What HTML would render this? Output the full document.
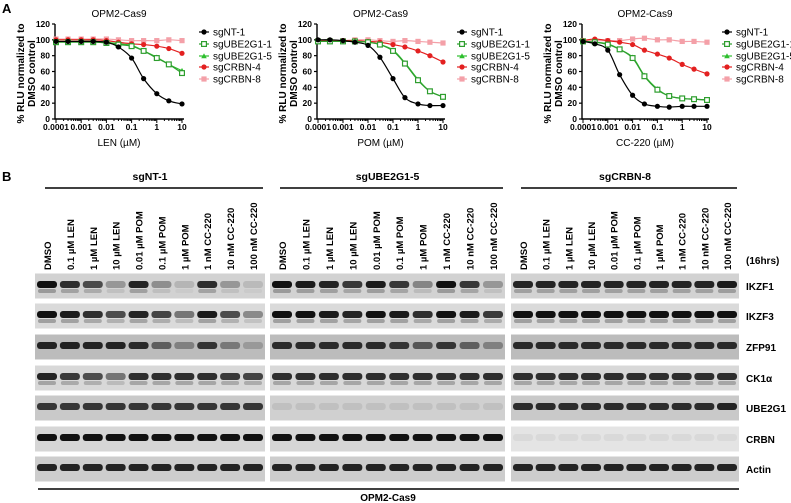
<!DOCTYPE html>
<html><head><meta charset="utf-8"><style>
html,body{margin:0;padding:0;background:#fff;width:791px;height:503px;overflow:hidden}
svg{display:block;font-family:"Liberation Sans",sans-serif}
</style></head><body>
<svg id="fig" width="791" height="503" viewBox="0 0 791 503" xmlns="http://www.w3.org/2000/svg">
<text x="2" y="13" font-size="13" font-weight="bold">A</text>
<text x="2" y="181" font-size="13" font-weight="bold">B</text>
</svg>
<script>
const doses=[0.0001,0.0003,0.001,0.003,0.01,0.03,0.1,0.3,1,3,10];
const seriesNames=["sgNT-1","sgUBE2G1-1","sgUBE2G1-5","sgCRBN-4","sgCRBN-8"];
const yTicks=[0,20,40,60,80,100,120];
const xTicks=[0.0001,0.001,0.01,0.1,1,10];
const xTickLabels=["0.0001","0.001","0.01","0.1","1","10"];
const len_nt=[98,98,98,98,97,91,77,51,32,23,19];
const len_ube1=[97,97,97,97,96,94,92,86,77,69,58];
const len_ube5=[98,98,98,98,97,95,93,86,78,69,61];
const len_crbn4=[100,100,100,100,99,97,95,94,92,89,83];
const len_crbn8=[101,101,101,101,101,100,99,99,99,100,99];
const pom_nt=[100,100,99,97,93,78,51,27,19,17,17];
const pom_ube1=[98,98,98,98,97,94,86,70,49,35,28];
const pom_ube5=[98,98,98,98,97,94,87,71,50,35,28];
const pom_crbn4=[99,99,99,99,98,97,94,91,86,80,72];
const pom_crbn8=[99,99,99,100,100,99,98,99,98,97,96];
const cc_nt=[98,95,87,56,30,19,16,15,16,16,16];
const cc_ube1=[98,97,94,88,77,54,37,29,26,25,24];
const cc_ube5=[98,97,95,88,78,55,38,29,26,25,24];
const cc_crbn4=[99,101,99,97,94,87,82,77,69,63,57];
const cc_crbn8=[99,99,99,99,101,102,100,100,98,98,97];

const NS="http://www.w3.org/2000/svg";
const svg=document.getElementById('fig');
function mk(tag,attrs,parent){const e=document.createElementNS(NS,tag);for(const k in attrs)e.setAttribute(k,attrs[k]);(parent||svg).appendChild(e);return e;}

const colors=["#000000","#2e9e2e","#2fbf2f","#e32020","#f4a0a8"];
const charts=[
 {x0:56,x1:182,lx:204,yl:24,title:"OPM2-Cas9",xlabel:"LEN (µM)",data:[len_nt,len_ube1,len_ube5,len_crbn4,len_crbn8],name:"len-chart"},
 {x0:318,x1:443,lx:462,yl:286,title:"OPM2-Cas9",xlabel:"POM (µM)",data:[pom_nt,pom_ube1,pom_ube5,pom_crbn4,pom_crbn8],name:"pom-chart"},
 {x0:583,x1:707,lx:727,yl:551,title:"OPM2-Cas9",xlabel:"CC-220 (µM)",data:[cc_nt,cc_ube1,cc_ube5,cc_crbn4,cc_crbn8],name:"cc220-chart"}
];
const Y0=119,Y1=24;
function sy(v){return Y0-(v/120)*(Y0-Y1);}
charts.forEach(c=>{
 const g=mk('g',{});
 
 
 const sx=d=>c.x0+(Math.log10(d)+4)/5*(c.x1-c.x0);
 const t=mk('text',{x:(c.x0+c.x1)/2,y:17,'font-size':10,'text-anchor':'middle'},g);t.textContent=c.title;
 
 
 const ax=mk('path',{d:`M${c.x0-1},${Y1}V${Y0}H${c.x1+2}`,stroke:'#000','stroke-width':1.4,fill:'none'},g);
 
 
 yTicks.forEach(v=>{
  mk('line',{x1:c.x0-4,x2:c.x0-1,y1:sy(v),y2:sy(v),stroke:'#000','stroke-width':1.2},g);
  const tl=mk('text',{x:c.x0-6,y:sy(v)+3,'font-size':8.5,'font-weight':'bold','text-anchor':'end'},g);tl.textContent=v;
  
  
 });
 for(let e=-4;e<=1;e++){
  for(let k=1;k<10;k++){const d=k*Math.pow(10,e);if(d>10)break;const x=sx(d);
   mk('line',{x1:x,x2:x,y1:Y0,y2:Y0+(k==1?4:2),stroke:'#000','stroke-width':1},g);}
 }
 xTicks.forEach((d,i)=>{
  const tl=mk('text',{x:sx(d),y:130,'font-size':8.5,'font-weight':'bold','text-anchor':'middle'},g);tl.textContent=xTickLabels[i];
  
  
 });
 const xl=mk('text',{x:(c.x0+c.x1)/2,y:146,'font-size':10,'text-anchor':'middle'},g);xl.textContent=c.xlabel;
 
 
 const yt=mk('text',{transform:`translate(${c.yl},${(Y0+Y1)/2+2}) rotate(-90)`,'font-size':10,'font-weight':'bold','text-anchor':'middle'},g);
 
 
 const t1=mk('tspan',{x:0,y:0},yt);t1.textContent="% RLU normalized to";
 const t2=mk('tspan',{x:0,y:11},yt);t2.textContent="DMSO control";
 [4,3,2,1,0].forEach(si=>{
  const vals=c.data[si];
  const pts=vals.map((v,i)=>[sx(doses[i]),sy(v)]);
  let d=`M${pts[0][0]},${pts[0][1]}`;
  for(let i=0;i<pts.length-1;i++){
   const p0=pts[Math.max(0,i-1)],p1=pts[i],p2=pts[i+1],p3=pts[Math.min(pts.length-1,i+2)];
   d+=`C${p1[0]+(p2[0]-p0[0])/6},${p1[1]+(p2[1]-p0[1])/6} ${p2[0]-(p3[0]-p1[0])/6},${p2[1]-(p3[1]-p1[1])/6} ${p2[0]},${p2[1]}`;
  }
  const ln=mk('path',{d:d,stroke:colors[si],'stroke-width':1.2,fill:'none'},g);
  
  
  pts.forEach(p=>{
   let m;
   if(si==0||si==3) m=mk('circle',{cx:p[0],cy:p[1],r:2.6,fill:colors[si]},g);
   else if(si==1) m=mk('rect',{x:p[0]-2.4,y:p[1]-2.4,width:4.8,height:4.8,fill:'#fff',stroke:colors[si],'stroke-width':1.2},g);
   else if(si==2) m=mk('path',{d:`M${p[0]},${p[1]-2.8}L${p[0]+2.8},${p[1]+2.2}L${p[0]-2.8},${p[1]+2.2}Z`,fill:colors[si]},g);
   else m=mk('rect',{x:p[0]-2.6,y:p[1]-2.6,width:5.2,height:5.2,fill:colors[si]},g);
   
   
  });
 });
 const legY=[32,44,56,67,79];
 seriesNames.forEach((n,si)=>{
  const lg=mk('g',{},g);
  
  
  const y=legY[si];
  mk('line',{x1:c.lx-5,x2:c.lx+5,y1:y,y2:y,stroke:colors[si],'stroke-width':1.2},lg);
  const p=[c.lx,y];
  if(si==0||si==3) mk('circle',{cx:p[0],cy:p[1],r:2.6,fill:colors[si]},lg);
  else if(si==1) mk('rect',{x:p[0]-2.4,y:p[1]-2.4,width:4.8,height:4.8,fill:'#fff',stroke:colors[si],'stroke-width':1.2},lg);
  else if(si==2) mk('path',{d:`M${p[0]},${p[1]-2.8}L${p[0]+2.8},${p[1]+2.2}L${p[0]-2.8},${p[1]+2.2}Z`,fill:colors[si]},lg);
  else mk('rect',{x:p[0]-2.6,y:p[1]-2.6,width:5.2,height:5.2,fill:colors[si]},lg);
  const tx=mk('text',{x:c.lx+9,y:y+3.5,'font-size':10},lg);tx.textContent=n;
 });
});

const lanes=["DMSO","0.1 µM LEN","1 µM LEN","10 µM LEN","0.01 µM POM","0.1 µM  POM","1 µM POM","1 nM CC-220","10 nM  CC-220","100 nM CC-220"];
const groups=["sgNT-1","sgUBE2G1-5","sgCRBN-8"];
const proteins=["IKZF1","IKZF3","ZFP91","CK1α","UBE2G1","CRBN","Actin"];
const p1=[[1,0.85,0.7,0.3,0.9,0.35,0.15,0.85,0.3,0.12],[1,0.95,0.85,0.7,0.9,0.75,0.5,0.95,0.7,0.4],[0.9,0.9,0.9,0.9,0.85,0.55,0.35,0.8,0.4,0.2],[0.9,0.8,0.7,0.5,0.85,0.85,0.85,0.85,0.8,0.75],[0.8,0.8,0.8,0.8,0.8,0.8,0.8,0.8,0.8,0.8],[1,1,1,1,1,1,1,1,1,1],[0.9,0.9,0.9,0.9,0.9,0.9,0.9,0.9,0.9,0.9]];
const p2=[[1,0.95,0.9,0.8,0.95,0.8,0.4,1,0.8,0.3],[1,1,0.95,0.9,1,0.95,0.85,1,0.95,0.8],[0.85,0.85,0.85,0.85,0.85,0.8,0.6,0.8,0.55,0.35],[0.85,0.85,0.85,0.85,0.85,0.85,0.85,0.85,0.85,0.85],[0.08,0.08,0.08,0.08,0.08,0.08,0.08,0.08,0.08,0.08],[1,1,1,1,1,1,1,1,1,1],[0.9,0.9,0.9,0.9,0.9,0.9,0.9,0.9,0.9,0.9]];
const p3=[[0.9,0.9,0.9,0.9,0.9,0.9,0.9,0.9,0.9,0.95],[1,1,1,1,1,1,1,1,1,1],[0.85,0.85,0.85,0.85,0.85,0.85,0.85,0.85,0.85,0.85],[0.85,0.85,0.85,0.85,0.85,0.85,0.85,0.85,0.85,0.85],[0.85,0.85,0.85,0.85,0.85,0.85,0.85,0.85,0.85,0.9],[0.05,0.05,0.05,0.05,0.05,0.05,0.05,0.05,0.05,0.05],[0.9,0.9,0.9,0.9,0.9,0.9,0.9,0.9,0.9,0.9]];
const panelData=[p1,p2,p3];
const panelX=[[35,265],[270,505],[511,739]];
const rowC=[286,316,347,378,408,439,469];
const rowBg=["#d2d2d2","#dadada","#bcbcbc","#d8d8d8","#c9c9c9","#d6d6d6","#cdcdcd"];
const doubleBand=[true,true,false,true,false,false,false];
panelX.forEach((px,pi)=>{
 const g=mk('g',{});
 
 
 const h=mk('text',{x:(px[0]+px[1])/2,y:180,'font-size':10.5,'font-weight':'bold','text-anchor':'middle'},g);h.textContent=groups[pi];
 
 
 mk('line',{x1:px[0]+10,x2:px[1]-2,y1:188,y2:188,stroke:'#000','stroke-width':1.5},g);
 const lw=(px[1]-px[0]);
 const laneX=i=>px[0]+12+i*(lw-24)/9;
 lanes.forEach((l,i)=>{
  const tx=mk('text',{transform:`translate(${laneX(i)+4},270) rotate(-90)`,'font-size':9.5,'font-weight':'bold'},g);tx.textContent=l;
  
  
 });
 proteins.forEach((p,ri)=>{
  let bg=rowBg[ri];
  if(pi==2&&ri==5) bg="#e4e4e4";
  if(pi==1&&ri==4) bg="#d0d0d0";
  const r=mk('rect',{x:px[0],y:rowC[ri]-12.5,width:lw,height:25,fill:bg},g);
  
  
  panelData[pi][ri].forEach((v,i)=>{
   const cx=laneX(i);
   const b=mk('rect',{x:cx-10,y:rowC[ri]-5,width:20,height:7,rx:3,fill:'#111','fill-opacity':v},g);
   
   
   if(doubleBand[ri]){mk('rect',{x:cx-9,y:rowC[ri]+3,width:18,height:4,rx:2,fill:'#333','fill-opacity':v*0.35},g);}
  });
 });
});
proteins.forEach((p,ri)=>{
 const t=mk('text',{x:746,y:rowC[ri]+4,'font-size':10,'font-weight':'bold'});t.textContent=p;
 
 
});
const hr=mk('text',{x:746,y:264,'font-size':10,'font-weight':'bold'});hr.textContent="(16hrs)";


const bl=mk('line',{x1:38,x2:739,y1:489,y2:489,stroke:'#000','stroke-width':1.5});


const bt=mk('text',{x:388,y:501,'font-size':10,'font-weight':'bold','text-anchor':'middle'});bt.textContent="OPM2-Cas9";


</script>
</body></html>
